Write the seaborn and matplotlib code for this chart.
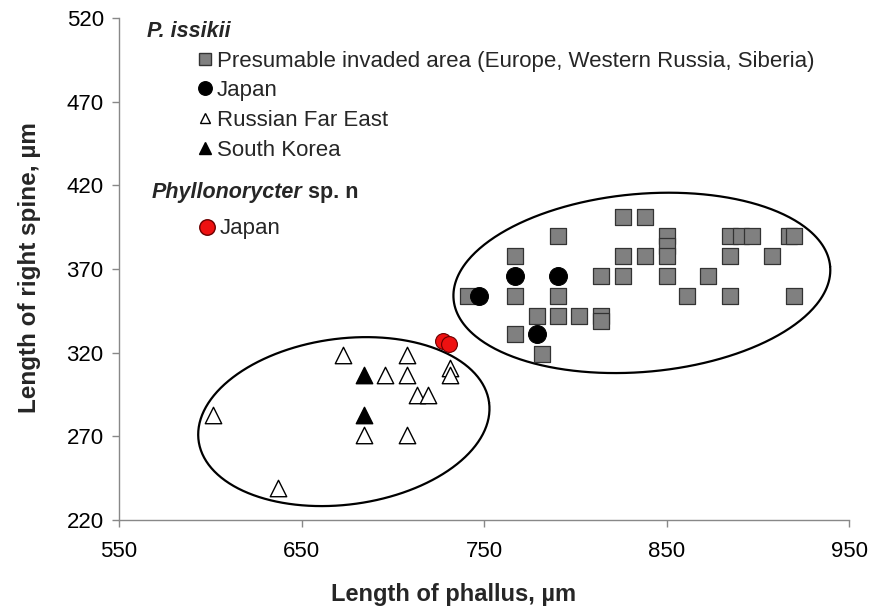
import numpy as np
import pandas as pd
import matplotlib
matplotlib.use("Agg")
import matplotlib.pyplot as plt
import seaborn as sns

# ---------------- data ----------------
inv_x = [826, 838, 790.5, 850, 885, 891, 897, 917, 920, 850,
         767, 826, 838, 850, 885, 908, 814, 826, 850, 873,
         741, 767, 790.5, 861, 885, 920, 779, 790.5, 802, 814, 814,
         767, 782]
inv_y = [401, 401, 390, 390, 390, 390, 390, 390, 390, 384,
         378, 378, 378, 378, 378, 378, 366, 366, 366, 366,
         354, 354, 354, 354, 354, 354, 342, 342, 342, 342, 339,
         331, 319]

jp_x = [747, 767, 790.5, 779]
jp_y = [354, 366, 366, 331]

rfe_x = [672.5, 708, 696, 708, 731.4, 731.4, 713.5, 719.5, 601.7, 684.2, 708, 637.3]
rfe_y = [318.4, 318.4, 306.5, 306.5, 311, 306.5, 295, 295, 283, 271, 271, 239]

kor_x = [684.2, 684.2]
kor_y = [306.5, 283]

spn_x = [727.5, 731]
spn_y = [327, 325]

x_ticks = [550, 650, 750, 850, 950]
y_ticks = [220, 270, 320, 370, 420, 470, 520]

legend_labels = ["Presumable invaded area (Europe, Western Russia, Siberia)",
                 "Japan", "Russian Far East", "South Korea"]
spn_label = "Japan"

# ---------------- styling ----------------
sns.set_theme(style="ticks")
plt.rcParams["font.family"] = ["Liberation Sans", "DejaVu Sans"]

W, H = 874, 611
fig = plt.figure(figsize=(W / 100, H / 100), dpi=100)
L, R, T, B = 119, 849, 18, 520
ax = fig.add_axes([L / W, 1 - B / H, (R - L) / W, (B - T) / H])

GRAY = "#808080"
EDGE = "#333333"

sns.scatterplot(x=inv_x, y=inv_y, marker="s", s=118, color=GRAY,
                edgecolor=EDGE, linewidth=0.9, ax=ax, zorder=3)
sns.scatterplot(x=jp_x, y=jp_y, marker="o", s=165, color="black",
                edgecolor="black", linewidth=0.8, ax=ax, zorder=4)
sns.scatterplot(x=rfe_x, y=rfe_y, marker="^", s=140, color="white",
                edgecolor="black", linewidth=1.0, ax=ax, zorder=4)
sns.scatterplot(x=kor_x, y=kor_y, marker="^", s=140, color="black",
                edgecolor="black", linewidth=1.0, ax=ax, zorder=4)
sns.scatterplot(x=spn_x, y=spn_y, marker="o", s=130, color="#ee1111",
                edgecolor="#6a0000", linewidth=0.8, ax=ax, zorder=5)

ax.set_xlim(550, 950)
ax.set_ylim(220, 520)
ax.set_xticks(x_ticks)
ax.set_yticks(y_ticks)
ax.tick_params(axis="both", labelsize=16, colors="#888888", labelcolor="black",
               length=5, width=1.0, direction="out")
ax.tick_params(axis="x", pad=10)
ax.tick_params(axis="y", pad=6)
for s in ["top", "right"]:
    ax.spines[s].set_visible(False)
for s in ["left", "bottom"]:
    ax.spines[s].set_color("#888888")
    ax.spines[s].set_linewidth(1.0)
ax.set_xlabel("")
ax.set_ylabel("")

# ---------------- ellipses (pixel-space shape, converted to data) ----------------
sx = (R - L) / 400.0
sy = (B - T) / 300.0

def ellipse(cx, cy, a_px, b_px, ang_deg):
    t = np.linspace(0, 2 * np.pi, 400)
    th = np.deg2rad(ang_deg)
    dx = a_px * np.cos(t) * np.cos(th) - b_px * np.sin(t) * np.sin(th)
    dy = a_px * np.cos(t) * np.sin(th) + b_px * np.sin(t) * np.cos(th)
    ax.plot(cx + dx / sx, cy + dy / sy, color="black", lw=1.6, zorder=2)

ellipse(836.5, 361.7, 189, 89, 5)
ellipse(673.2, 278.8, 146.5, 83, 7.5)

# ---------------- axis labels ----------------
fig.text(454 / W, 1 - 595 / H, "Length of phallus, µm", ha="center", va="center",
         fontsize=17, fontweight="bold")
fig.text(30 / W, 1 - 268 / H, "Length of right spine, µm", ha="center", va="center",
         rotation=90, fontsize=17.5, fontweight="bold")

# ---------------- custom legend ----------------
def fx(px):
    return px / W

def fy(py):
    return 1 - py / H

def legend_marker(px, py, mk, fc, ec, size_px):
    fig.lines.append(plt.Line2D([fx(px)], [fy(py)], marker=mk, markersize=size_px * 0.72,
                                markerfacecolor=fc, markeredgecolor=ec,
                                markeredgewidth=1.0, linestyle="none",
                                transform=fig.transFigure, figure=fig))

fig.text(fx(146.7), fy(36.7), "P. issikii", fontsize=15.5, fontweight="bold",
         fontstyle="italic", va="baseline", ha="left")

leg_marks = [("s", GRAY, EDGE, 12.5), ("o", "black", "black", 13.5),
             ("^", "white", "black", 10.5), ("^", "black", "black", 11.5)]
rows_y = [59, 88.3, 118.3, 148.3]
for (mk, fc, ec, ms), lab, ry in zip(leg_marks, legend_labels, rows_y):
    legend_marker(204.5, ry, mk, fc, ec, ms)
    fig.text(fx(216.7), fy(ry + 7.5), lab, fontsize=16, va="baseline", ha="left")

t1 = fig.text(fx(151.7), fy(198.3), "Phyllonorycter", fontsize=15.5, fontweight="bold",
              fontstyle="italic", va="baseline", ha="left")
ax.annotate(" sp. n", xy=(1, 0), xycoords=t1, ha="left", va="bottom",
            fontsize=15.5, fontweight="bold", annotation_clip=False)

legend_marker(207.3, 226.7, "o", "#ee1111", "#6a0000", 15.5)
fig.text(fx(220), fy(233.5), spn_label, fontsize=16, va="baseline", ha="left")

fig.savefig("out.png", dpi=100)
